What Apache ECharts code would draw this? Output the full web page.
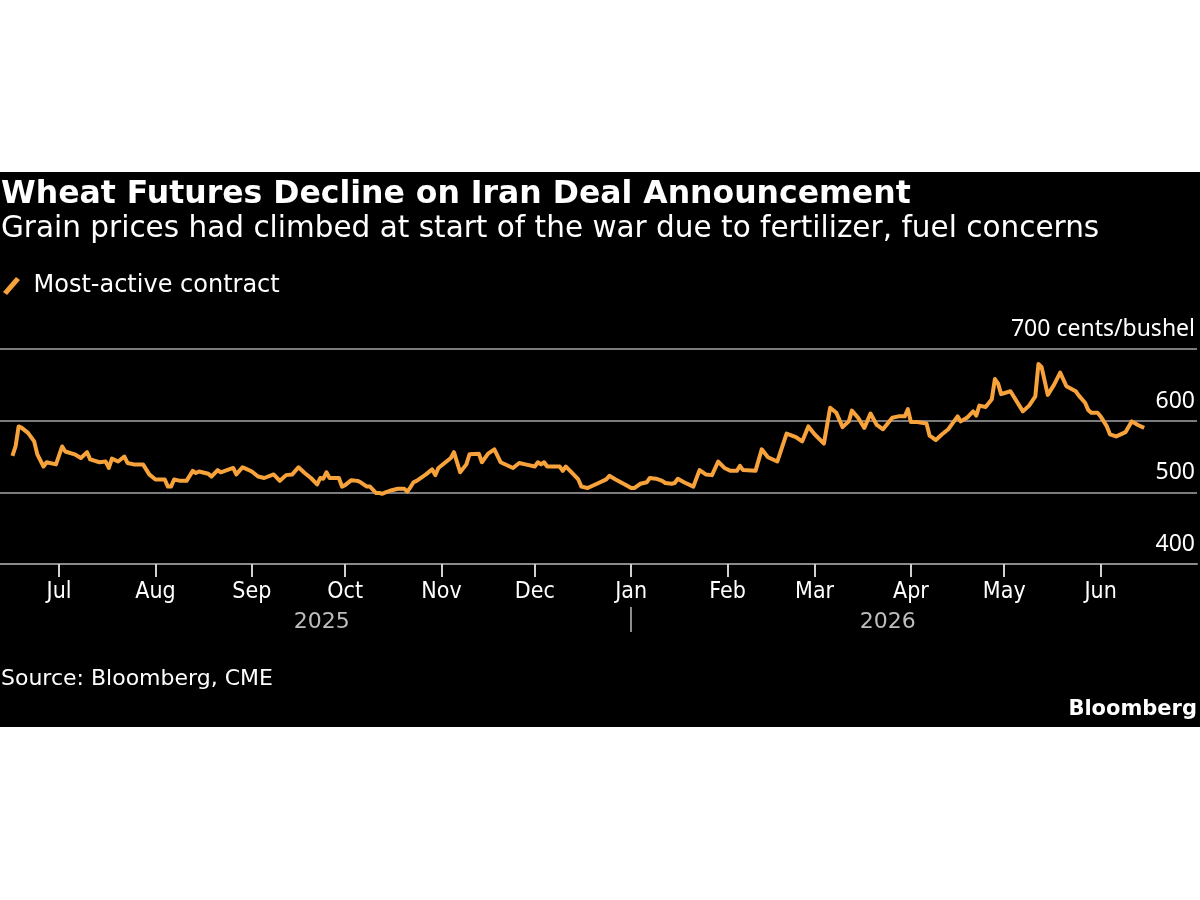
<!DOCTYPE html>
<html>
<head>
<meta charset="utf-8">
<title>Wheat Futures Decline on Iran Deal Announcement</title>
<script src="https://cdn.jsdelivr.net/npm/echarts@6/dist/echarts.min.js"></script>
<style>
	html, body { margin: 0; padding: 0; background: #fff; }
	#chart { position: absolute; left: 0; top: 172px; width: 1200px; height: 555px; background: #000; }
</style>
</head>
<body>
<div id="chart"></div>
<script>
var titleText = 'Wheat Futures Decline on Iran Deal Announcement';
var subtitleText = 'Grain prices had climbed at start of the war due to fertilizer, fuel concerns';
var seriesName = 'Most-active contract';
var sourceText = 'Source: Bloomberg, CME';

// most-active wheat contract, cents/bushel
var dates = [
	'2025-06-16','2025-06-17','2025-06-18','2025-06-19','2025-06-21','2025-06-23','2025-06-24','2025-06-26','2025-06-27','2025-06-30',
	'2025-07-02','2025-07-03','2025-07-06','2025-07-08','2025-07-10','2025-07-11','2025-07-14','2025-07-16','2025-07-17','2025-07-18',
	'2025-07-20','2025-07-22','2025-07-23','2025-07-25','2025-07-28','2025-07-30','2025-08-01','2025-08-04','2025-08-05','2025-08-06',
	'2025-08-07','2025-08-09','2025-08-11','2025-08-13','2025-08-14','2025-08-15','2025-08-18','2025-08-19','2025-08-21','2025-08-22',
	'2025-08-24','2025-08-26','2025-08-27','2025-08-29','2025-08-30','2025-09-01','2025-09-03','2025-09-05','2025-09-08','2025-09-10',
	'2025-09-12','2025-09-14','2025-09-16','2025-09-18','2025-09-20','2025-09-22','2025-09-23','2025-09-24','2025-09-25','2025-09-26',
	'2025-09-29','2025-09-30','2025-10-01','2025-10-03','2025-10-05','2025-10-06','2025-10-08','2025-10-09','2025-10-11','2025-10-12',
	'2025-10-13','2025-10-14','2025-10-16','2025-10-18','2025-10-20','2025-10-21','2025-10-22','2025-10-23','2025-10-24','2025-10-27',
	'2025-10-29','2025-10-30','2025-10-31','2025-11-02','2025-11-04','2025-11-05','2025-11-07','2025-11-09','2025-11-10','2025-11-13',
	'2025-11-14','2025-11-16','2025-11-18','2025-11-20','2025-11-24','2025-11-26','2025-11-28','2025-12-01','2025-12-02','2025-12-03',
	'2025-12-04','2025-12-05','2025-12-09','2025-12-10','2025-12-11','2025-12-13','2025-12-15','2025-12-16','2025-12-18','2025-12-21',
	'2025-12-24','2025-12-25','2025-12-27','2025-12-30','2026-01-01','2026-01-02','2026-01-04','2026-01-06','2026-01-07','2026-01-09',
	'2026-01-11','2026-01-12','2026-01-14','2026-01-15','2026-01-16','2026-01-18','2026-01-21','2026-01-23','2026-01-25','2026-01-27',
	'2026-01-29','2026-01-31','2026-02-02','2026-02-04','2026-02-05','2026-02-06','2026-02-10','2026-02-12','2026-02-14','2026-02-17',
	'2026-02-20','2026-02-23','2026-02-25','2026-02-27','2026-03-01','2026-03-04','2026-03-06','2026-03-08','2026-03-10','2026-03-12',
	'2026-03-13','2026-03-15','2026-03-17','2026-03-19','2026-03-21','2026-03-23','2026-03-26','2026-03-28','2026-03-30','2026-03-31',
	'2026-04-01','2026-04-03','2026-04-06','2026-04-07','2026-04-09','2026-04-11','2026-04-13','2026-04-15','2026-04-16','2026-04-17',
	'2026-04-19','2026-04-21','2026-04-22','2026-04-23','2026-04-25','2026-04-27','2026-04-28','2026-04-29','2026-04-30','2026-05-03',
	'2026-05-07','2026-05-09','2026-05-11','2026-05-12','2026-05-13','2026-05-15','2026-05-17','2026-05-19','2026-05-21','2026-05-24',
	'2026-05-25','2026-05-27','2026-05-28','2026-05-29','2026-05-31','2026-06-01','2026-06-03','2026-06-04','2026-06-06','2026-06-08',
	'2026-06-09','2026-06-11','2026-06-13','2026-06-15'
];
var prices = [
	551,564,592,590,583,571,553,536,542,539,
	564,557,553,548,556,546,542,543,534,547,
	543,550,541,539,539,525,518,518,508,508,
	518,516,516,530,527,529,526,522,531,528,
	531,534,525,535,533,529,522,520,525,516,
	524,525,535,527,520,511,520,519,528,520,
	520,508,510,517,516,514,508,508,499,499,
	498,500,503,505,505,501,507,514,516,525,
	532,524,534,541,548,556,528,539,553,554,
	542,554,560,542,534,541,539,536,542,539,
	542,536,536,530,536,527,518,508,506,512,
	518,523,518,511,506,506,512,514,520,519,
	516,513,512,513,519,514,508,531,525,524,
	543,534,530,530,537,531,530,560,549,543,
	582,577,571,592,581,568,618,611,591,599,
	614,604,590,610,594,588,604,606,606,616,
	598,598,596,579,573,581,588,600,606,599,
	604,613,607,621,619,630,658,652,637,641,
	613,621,634,679,675,636,650,667,648,641,
	635,625,615,611,611,606,592,581,578,582,
	584,599,594,590
];

// axes
var xMin = '2025-06-12';
var xMax = '2026-07-02';
var yTicks = [400, 500, 600, 700];
var yUnit = 'cents/bushel';
var monthTicks = ['2025-07-01','2025-08-01','2025-09-01','2025-10-01','2025-11-01','2025-12-01',
	'2026-01-01','2026-02-01','2026-03-01','2026-04-01','2026-05-01','2026-06-01'];
var monthNames = ['Jan','Feb','Mar','Apr','May','Jun','Jul','Aug','Sep','Oct','Nov','Dec'];
var yearBreak = '2026-01-01';

/* date string -> local timestamp */
function toTs(s){
	var p = s.split('-');
	return new Date(+p[0], p[1] - 1, +p[2]).getTime();
}

var monthTs = monthTicks.map(toTs);
var breakTs = toTs(yearBreak);
var firstTs = toTs(dates[0]);
var lastTs = toTs(dates[dates.length - 1]);
var yearLabelTs = [(firstTs + breakTs) / 2, (breakTs + lastTs) / 2];

var lineData = dates.map(function(d, i){
	return [toTs(d), prices[i]];
});

var chart = echarts.init(document.getElementById('chart'));

var option = {
	backgroundColor: '#000',
	animation: false,
	title: [{
		text: titleText,
		left: 1,
		top: 7,
		padding: 0,
		textStyle: { color: '#fff', fontFamily: 'DejaVu Sans', fontWeight: 'bold', fontSize: 31.5 }
	}, {
		text: subtitleText,
		left: 1,
		top: 42,
		padding: 0,
		textStyle: { color: '#fff', fontFamily: 'DejaVu Sans', fontWeight: 'normal', fontSize: 29.5 }
	}, {
		text: sourceText,
		left: 1,
		top: 496,
		padding: 0,
		textStyle: { color: '#fff', fontFamily: 'DejaVu Sans', fontWeight: 'normal', fontSize: 22 }
	}, {
		text: 'Bloomberg',
		right: 3,
		top: 527,
		padding: 0,
		textStyle: { color: '#fff', fontFamily: 'DejaVu Sans', fontWeight: 'bold', fontSize: 21 }
	}],
	legend: {
		left: 3,
		top: 102,
		padding: 0,
		itemWidth: 18,
		itemHeight: 18,
		itemGap: 10,
		icon: 'path://M0,15 L13,0 L17,3 L4,18 Z',
		textStyle: { color: '#fff', fontFamily: 'DejaVu Sans', fontSize: 24, padding: [0, 0, 0, 8] },
		data: [seriesName]
	},
	grid: {
		left: 0,
		right: 3,
		top: 177,
		bottom: 163,
		containLabel: false
	},
	xAxis: [{
		type: 'value',
		min: toTs(xMin),
		max: toTs(xMax),
		axisLine: { show: true, lineStyle: { color: '#8a8a8a', width: 2 } },
		axisTick: {
			show: true,
			customValues: monthTs,
			length: 13,
			lineStyle: { color: '#d0d0d0', width: 2 }
		},
		axisLabel: {
			customValues: monthTs,
			margin: 17,
			color: '#fff',
			fontFamily: 'DejaVu Sans Condensed',
			fontSize: 23,
			formatter: function(val){
				return monthNames[new Date(val).getMonth()];
			}
		},
		splitLine: { show: false }
	}, {
		type: 'value',
		min: toTs(xMin),
		max: toTs(xMax),
		position: 'bottom',
		offset: 43,
		axisLine: { show: false },
		axisTick: {
			show: true,
			customValues: [breakTs],
			length: 25,
			lineStyle: { color: '#bdbdbd', width: 1.5 }
		},
		axisLabel: {
			customValues: yearLabelTs,
			margin: 4,
			color: '#bdbdbd',
			fontFamily: 'DejaVu Sans',
			fontSize: 22,
			formatter: function(val){
				return String(new Date(val).getFullYear());
			}
		},
		splitLine: { show: false }
	}],
	yAxis: {
		type: 'value',
		position: 'right',
		min: yTicks[0],
		max: yTicks[yTicks.length - 1],
		interval: yTicks[1] - yTicks[0],
		axisLine: { show: false },
		axisTick: { show: false },
		splitLine: { show: true, lineStyle: { color: '#7c7c7c', width: 2 } },
		axisLabel: {
			inside: true,
			margin: 2,
			color: '#fff',
			fontFamily: 'Noto Sans',
			fontSize: 23,
			align: 'right',
			verticalAlign: 'bottom',
			padding: [0, 0, 8, 0],
			formatter: function(val){
				return val === yTicks[yTicks.length - 1] ? val + ' ' + yUnit : String(val);
			}
		}
	},
	series: [{
		name: seriesName,
		type: 'line',
		xAxisIndex: 0,
		data: lineData,
		showSymbol: false,
		symbol: 'none',
		lineStyle: { color: '#f7a23b', width: 4, join: 'round' },
		itemStyle: { color: '#f7a23b' }
	}]
};

chart.setOption(option);
</script>
</body>
</html>
